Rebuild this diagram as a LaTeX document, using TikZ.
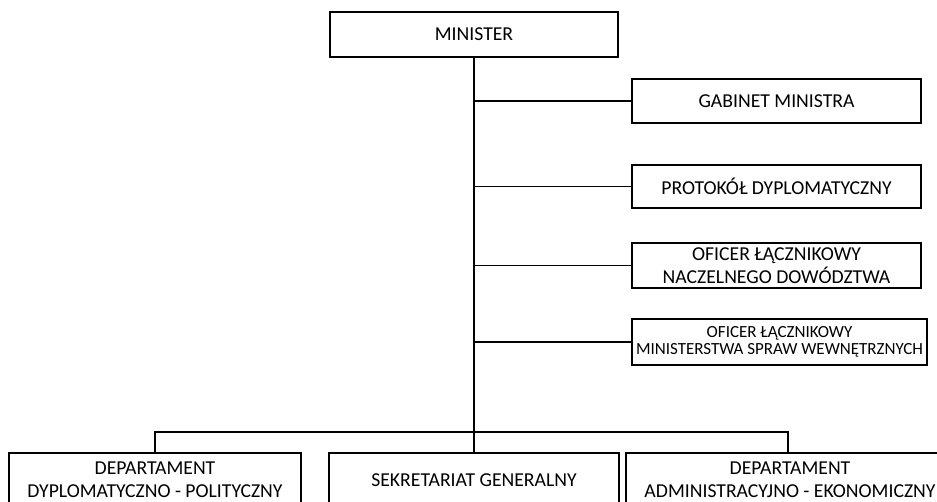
\documentclass[tikz,border=0pt]{standalone}
\usepackage{fontspec}
\setmainfont{Carlito}
\usetikzlibrary{calc}

\begin{document}
\begin{tikzpicture}[x=1pt,y=-1pt,line width=1.5pt,
        unit/.style={rectangle,draw=black,inner sep=0pt,align=center,minimum width=289pt,minimum height=44pt,
          font=\fontsize{19.7}{23}\selectfont},
        dept/.style={unit,minimum height=54pt},
        smalltext/.style={font=\fontsize{17}{17}\selectfont}]
  \useasboundingbox (0,0) rectangle (937,502);
  \clip (0,0) rectangle (937,502);
  % top
  \node[unit,minimum width=288pt,minimum height=45pt] (min) at (474,34.5) {MINISTER};
  % side units
  \node[unit]                   (gab)  at (776.5,101)   {GABINET MINISTRA};
  \node[unit,minimum height=43pt] (prot) at (776.5,186.5) {PROTOKÓŁ DYPLOMATYCZNY};
  \node[unit,minimum height=45pt] (ndow) at (776.5,265.5) {OFICER ŁĄCZNIKOWY\\NACZELNEGO DOWÓDZTWA};
  \node[unit,smalltext,minimum width=295pt,minimum height=46pt] (msw) at (779.5,342) {OFICER ŁĄCZNIKOWY\\MINISTERSTWA SPRAW WEWNĘTRZNYCH};
  % departments
  \node[dept,minimum width=292pt] (dyp) at (155,480) {DEPARTAMENT\\DYPLOMATYCZNO - POLITYCZNY};
  \node[dept,minimum width=290pt] (sek) at (474,480) {SEKRETARIAT GENERALNY};
  \node[dept,minimum width=328pt] (adm) at (790,480) {DEPARTAMENT\\ADMINISTRACYJNO - EKONOMICZNY};
  \coordinate (fork) at (474,432);
  % connectors
  \draw (min) -- (sek);
  \foreach \u in {gab,prot,ndow,msw}
    \draw (min.south |- \u.west) -- (\u.west);
  \draw (dyp.north) |- (fork) -| ([xshift=-2pt]adm.north);
\end{tikzpicture}
\end{document}
